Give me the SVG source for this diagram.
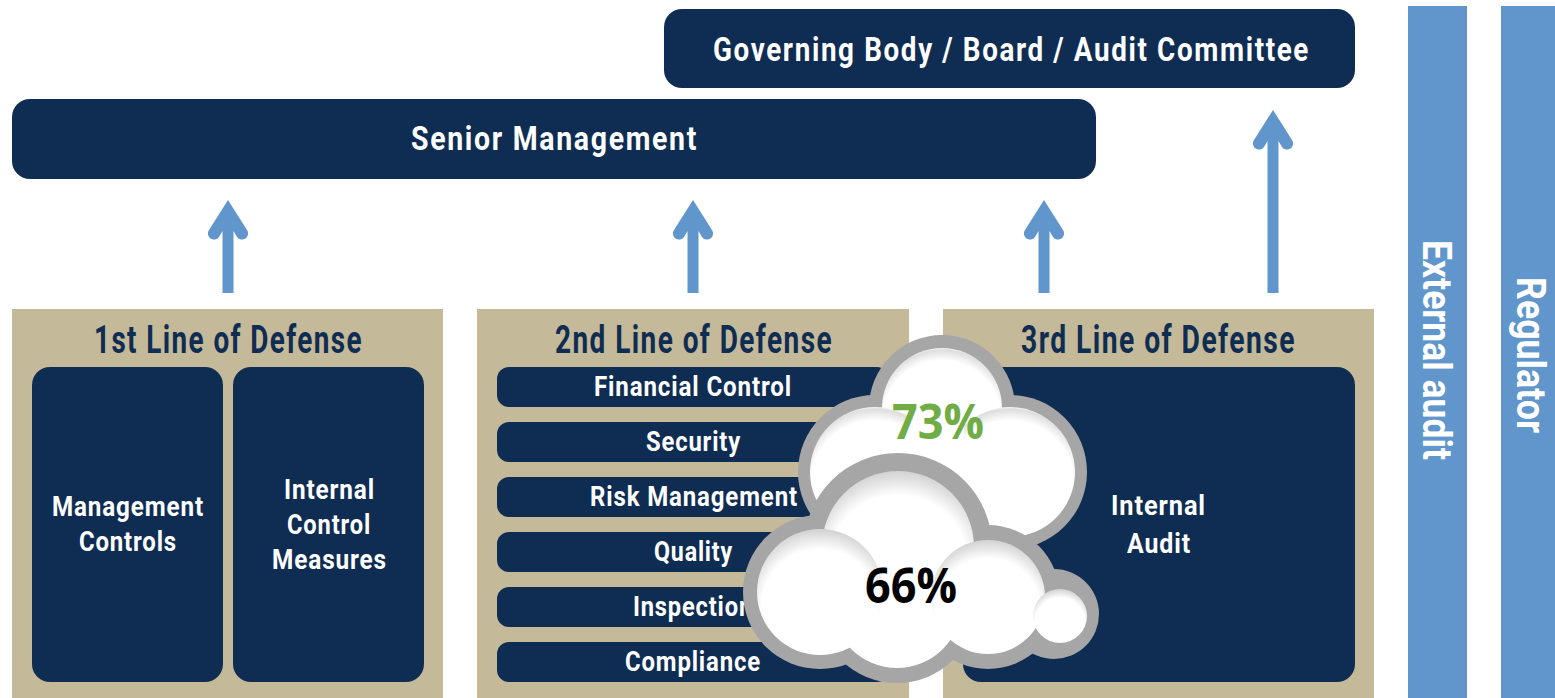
<svg xmlns="http://www.w3.org/2000/svg" width="1555" height="698" viewBox="0 0 1555 698">
<style>
.navy{fill:#0f2d52}
.tan{fill:#c4b998}
.blue{fill:#6096cb}
.arrow{fill:#6096cb}
.t{font-family:"Roboto","Liberation Sans",sans-serif;font-weight:700;fill:#fff}
.h{font-size:39px;fill:#0f2d52;letter-spacing:2px}
.b{font-size:34px;letter-spacing:2px}
.s{font-size:28px;letter-spacing:1px}
.r{font-size:28px;letter-spacing:1px}
.v{font-size:41px;font-weight:700}
.n{font-family:"Open Sans","Liberation Sans",sans-serif;font-weight:700;font-size:48px}
.o{fill:#a6a6a6}
.w{fill:url(#puff)}
.y{fill:url(#puff2)}
</style>
<defs>
<radialGradient id="puff" cx="0.5" cy="0.6" r="0.62">
<stop offset="0.8" stop-color="#fff"/>
<stop offset="0.94" stop-color="#dedede"/>
<stop offset="0.97" stop-color="#f6f6f6"/>
<stop offset="1" stop-color="#e8e8e8"/>
</radialGradient>
<radialGradient id="puff2" cx="0.5" cy="0.62" r="0.64">
<stop offset="0.72" stop-color="#fff"/>
<stop offset="1" stop-color="#cccccc"/>
</radialGradient>
</defs>
<rect x="0" y="0" width="1555" height="698" fill="#fff"/>
<g id="governing"><rect class="navy" x="664" y="9" width="691" height="79" rx="18"/><text class="t b" x="713" y="61" textLength="597" lengthAdjust="spacingAndGlyphs">Governing Body / Board / Audit Committee</text></g>
<g id="senior"><rect class="navy" x="12" y="99" width="1084" height="80" rx="18"/><text class="t b" x="411" y="150" textLength="287" lengthAdjust="spacingAndGlyphs">Senior Management</text></g>
<g id="external"><rect class="blue" x="1408" y="6" width="59" height="692"/><text class="t v" transform="translate(1423 240) rotate(90)" textLength="220" lengthAdjust="spacingAndGlyphs">External audit</text></g>
<g id="regulator"><rect class="blue" x="1501" y="6" width="54" height="692"/><text class="t v" transform="translate(1517 277) rotate(90)" textLength="156" lengthAdjust="spacingAndGlyphs">Regulator</text></g>
<g id="connectors">
<path class="arrow" d="M228 200L247 230A6 6 0 0 1 237 237L233.500 231V293H222.500V231L219 237A6 6 0 0 1 209 230Z"/>
<path class="arrow" d="M693 200L712 230A6 6 0 0 1 702 237L698.500 231V293H687.500V231L684 237A6 6 0 0 1 674 230Z"/>
<path class="arrow" d="M1044 200L1063 230A6 6 0 0 1 1053 237L1049.500 231V293H1038.500V231L1035 237A6 6 0 0 1 1025 230Z"/>
<path class="arrow" d="M1273 110L1292 140A6 6 0 0 1 1282 147L1278.500 141V293H1267.500V141L1264 147A6 6 0 0 1 1254 140Z"/>
</g>
<g id="line1"><rect class="tan" x="12" y="309" width="431" height="389"/><text class="t h" x="94" y="353" textLength="269" lengthAdjust="spacingAndGlyphs">1st Line of Defense</text></g>
<g id="management-controls"><rect class="navy" x="32" y="367" width="191" height="315" rx="18"/><text class="t s" x="52" y="516" textLength="152" lengthAdjust="spacingAndGlyphs">Management</text><text class="t s" x="79" y="551" textLength="98" lengthAdjust="spacingAndGlyphs">Controls</text></g>
<g id="internal-control"><rect class="navy" x="233" y="367" width="191" height="315" rx="18"/><text class="t s" x="284" y="499" textLength="91" lengthAdjust="spacingAndGlyphs">Internal</text><text class="t s" x="287" y="534" textLength="84" lengthAdjust="spacingAndGlyphs">Control</text><text class="t s" x="272" y="569" textLength="115" lengthAdjust="spacingAndGlyphs">Measures</text></g>
<g id="line2"><rect class="tan" x="477" y="309" width="432" height="389"/><text class="t h" x="555" y="353" textLength="278" lengthAdjust="spacingAndGlyphs">2nd Line of Defense</text></g>
<g id="financial"><rect class="navy" x="497" y="367" width="392" height="40" rx="12"/><text class="t r" x="594" y="396" textLength="198" lengthAdjust="spacingAndGlyphs">Financial Control</text></g>
<g id="security"><rect class="navy" x="497" y="422" width="392" height="40" rx="12"/><text class="t r" x="646" y="451" textLength="95" lengthAdjust="spacingAndGlyphs">Security</text></g>
<g id="risk"><rect class="navy" x="497" y="477" width="392" height="40" rx="12"/><text class="t r" x="590" y="506" textLength="208" lengthAdjust="spacingAndGlyphs">Risk Management</text></g>
<g id="quality"><rect class="navy" x="497" y="532" width="392" height="40" rx="12"/><text class="t r" x="654" y="561" textLength="79" lengthAdjust="spacingAndGlyphs">Quality</text></g>
<g id="inspection"><rect class="navy" x="497" y="587" width="392" height="40" rx="12"/><text class="t r" x="633" y="616" textLength="120" lengthAdjust="spacingAndGlyphs">Inspection</text></g>
<g id="compliance"><rect class="navy" x="497" y="642" width="392" height="40" rx="12"/><text class="t r" x="625" y="671" textLength="136" lengthAdjust="spacingAndGlyphs">Compliance</text></g>
<g id="line3"><rect class="tan" x="943" y="309" width="431" height="389"/><text class="t h" x="1021" y="353" textLength="275" lengthAdjust="spacingAndGlyphs">3rd Line of Defense</text></g>
<g id="internal-audit"><rect class="navy" x="963" y="367" width="392" height="315" rx="18"/><text class="t s" x="1111" y="515" textLength="95" lengthAdjust="spacingAndGlyphs">Internal</text><text class="t s" x="1127" y="553" textLength="64" lengthAdjust="spacingAndGlyphs">Audit</text></g>
<g id="cloud-73">
<circle class="o" cx="942" cy="408" r="73"/><circle class="o" cx="875" cy="472" r="77"/><circle class="o" cx="1010" cy="472" r="77"/>
<circle class="w" cx="942" cy="408" r="60"/><circle class="w" cx="875" cy="472" r="65"/><circle class="w" cx="1010" cy="472" r="65"/>
<path d="M905 420H965L958 490H915Z" fill="#fff"/>
<text class="n" x="892" y="439" fill="#70ad47" textLength="92" lengthAdjust="spacingAndGlyphs">73%</text>
</g>
<g id="cloud-66">
<circle class="o" cx="898" cy="547" r="94"/><circle class="o" cx="820" cy="592" r="77"/><circle class="o" cx="988" cy="597" r="72"/><circle class="o" cx="897" cy="603" r="80"/><circle class="o" cx="1054" cy="614" r="45"/>
<circle class="y" cx="898" cy="547" r="76"/><circle cx="897" cy="603" r="65" fill="#fff"/><circle class="y" cx="820" cy="592" r="63"/><circle class="y" cx="988" cy="597" r="57"/><circle class="y" cx="1060" cy="616" r="27"/>
<text class="n" x="865" y="603" fill="#000" textLength="92" lengthAdjust="spacingAndGlyphs">66%</text>
</g>
</svg>
